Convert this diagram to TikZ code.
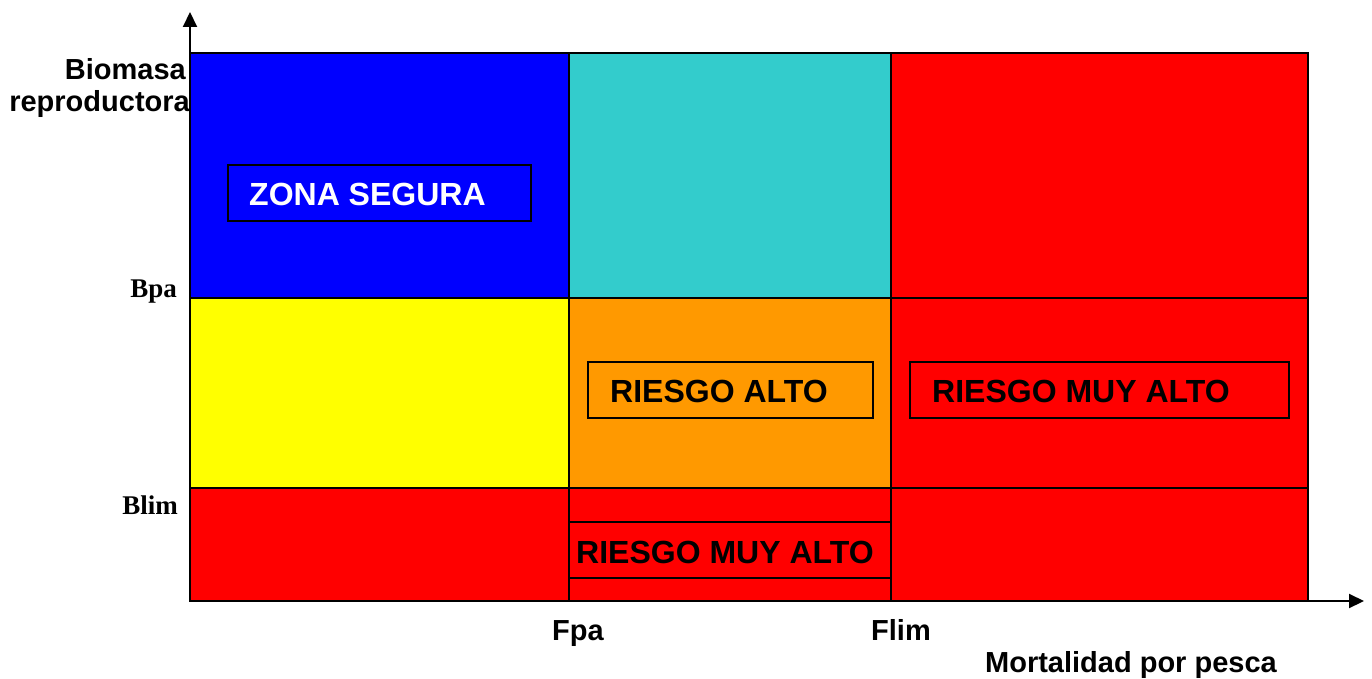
\documentclass[tikz,border=0pt]{standalone}
\usepackage{fontspec}
\setmainfont{Liberation Sans}
\newfontfamily\serifbf{Liberation Serif}
\usetikzlibrary{arrows.meta}
\definecolor{cblue}{HTML}{0000FF}
\definecolor{ccyan}{HTML}{33CCCC}
\definecolor{cred}{HTML}{FF0000}
\definecolor{cyel}{HTML}{FFFF00}
\definecolor{corange}{HTML}{FF9900}
\tikzset{
  cell/.style={draw=black, line width=2pt},
  tagbox/.style={draw=black, line width=2pt, inner sep=0pt},
  tagtext/.style={font=\fontsize{32}{36}\selectfont\bfseries, inner sep=0pt, anchor=base west},
  axlabel/.style={font=\fontsize{29}{32}\selectfont\bfseries, inner sep=0pt},
  blabel/.style={font=\serifbf\fontsize{27}{32}\selectfont\bfseries, inner sep=0pt, anchor=base east},
  axis/.style={line width=2pt, -{Triangle[length=15pt,width=14pt]}}
}
\begin{document}
\begin{tikzpicture}[x=1pt,y=-1pt]
\useasboundingbox (0,0) rectangle (1372,679);
% cells
\fill[cblue] (190,53) rectangle (569,298);
\fill[ccyan] (569,53) rectangle (891,298);
\fill[cred] (891,53) rectangle (1308,298);
\fill[cyel] (190,298) rectangle (569,488);
\fill[corange] (569,298) rectangle (891,488);
\fill[cred] (891,298) rectangle (1308,488);
\fill[cred] (190,488) rectangle (1308,601);
\draw[cell] (190,53) rectangle (1308,601);
\draw[cell] (569,53) -- (569,601);
\draw[cell] (891,53) -- (891,601);
\draw[cell] (190,298) -- (1308,298);
\draw[cell] (190,488) -- (1308,488);
% label boxes
\draw[tagbox] (228,165) rectangle (531,221);
\node[tagtext, text=white] (zs) at (249,205) {ZONA SEGURA};
\draw[tagbox] (588,362) rectangle (873,418);
\node[tagtext] (ra) at (610,402) {RIESGO ALTO};
\draw[tagbox] (910,362) rectangle (1289,418);
\node[tagtext] (rma1) at (932,402) {RIESGO MUY ALTO};
\draw[tagbox] (569,522) rectangle (891,578);
\node[tagtext] (rma2) at (576,563) {RIESGO MUY ALTO};
% axes
\coordinate (o) at (190,601);
\coordinate (ytip) at (190,12);
\coordinate (xtip) at (1364,601);
\draw[axis] (o) -- (ytip);
\draw[axis] (o) -- (xtip);
% axis labels
\node[axlabel, anchor=base east] (bio) at (186,80) {Biomasa};
\node[axlabel, anchor=base east] (rep) at (190,112) {reproductora};
\node[blabel] (bpa) at (177,297) {Bpa};
\node[blabel] (blim) at (178,514) {Blim};
\node[axlabel, anchor=base west] (fpa) at (552,640) {Fpa};
\node[axlabel, anchor=base west] (flim) at (871,640) {Flim};
\node[axlabel, anchor=base east] (mort) at (1277,672) {Mortalidad por pesca};
\end{tikzpicture}
\end{document}
